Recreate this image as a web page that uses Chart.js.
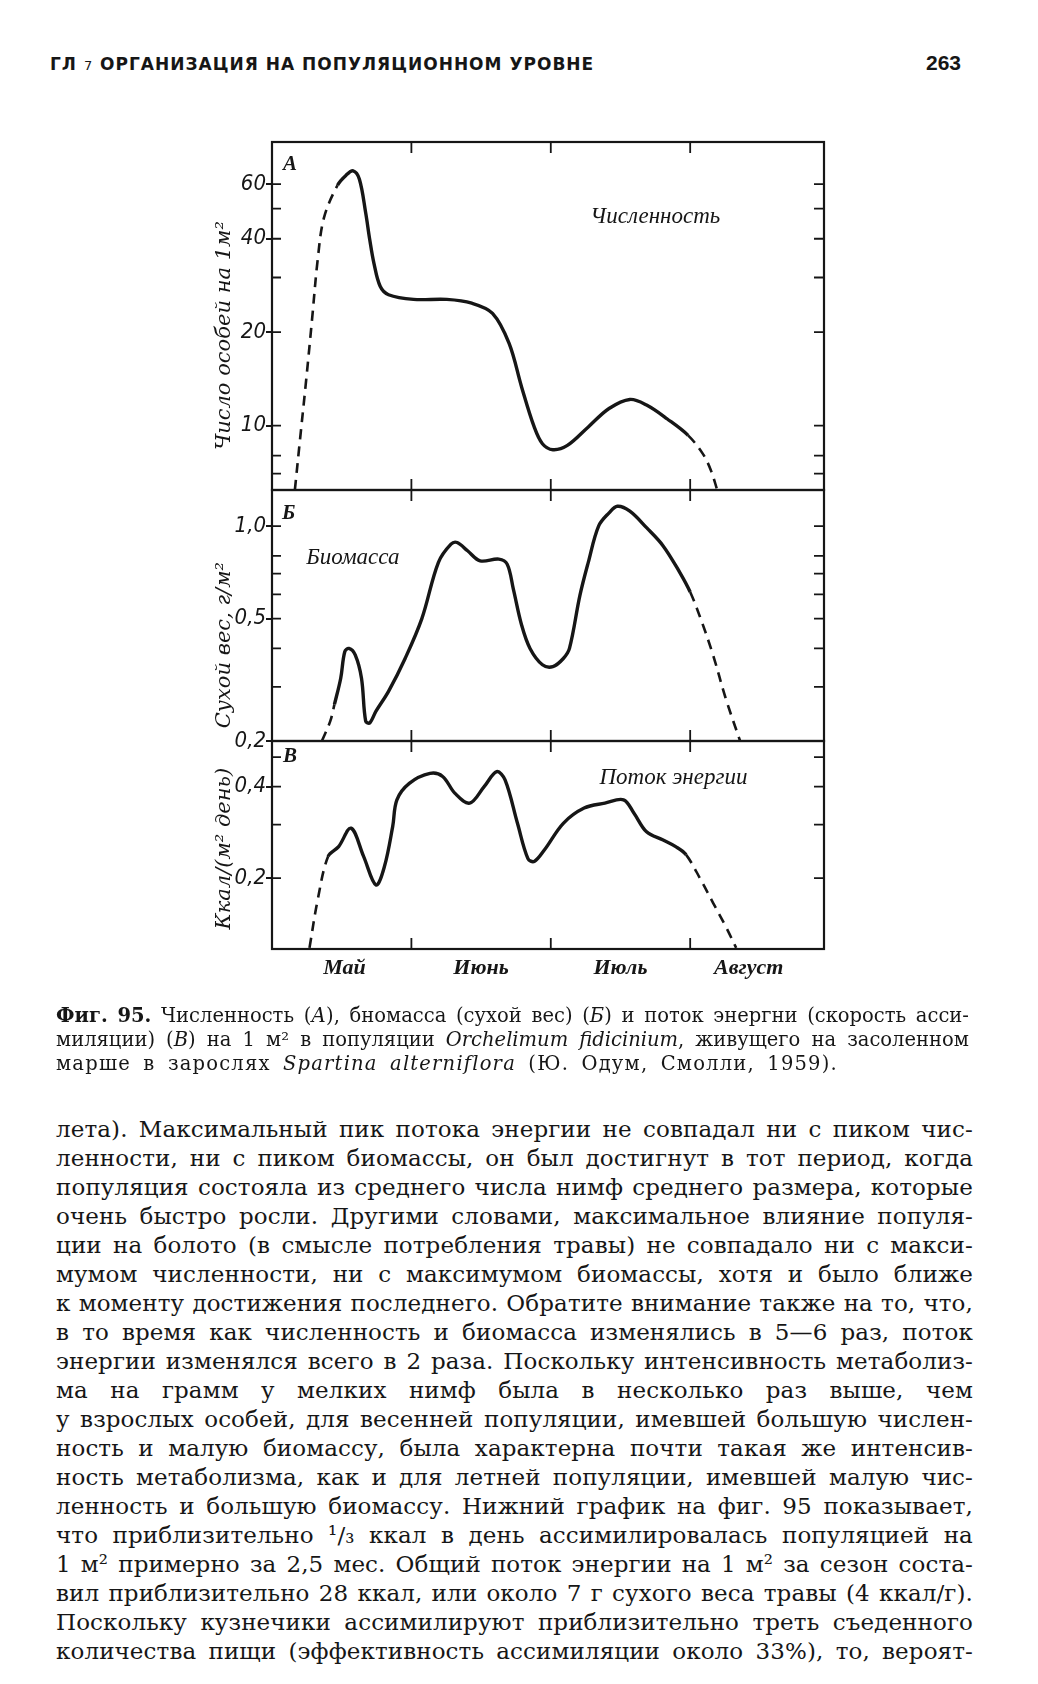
<!DOCTYPE html>
<html lang="ru">
<head>
<meta charset="utf-8">
<title>Фиг. 95</title>
<script src="https://cdn.jsdelivr.net/npm/chart.js@4.4.1/dist/chart.umd.min.js"></script>
<style>
    html, body { margin: 0; padding: 0; background: #fff; }
    body { width: 1038px; height: 1684px; position: relative; overflow: hidden; color: #161616; }
    canvas { position: absolute; left: 0; }
    .header { position: absolute; left: 50px; top: 54px; line-height: 20px; font: bold 17px 'DejaVu Sans', sans-serif; letter-spacing: 1px; white-space: nowrap; }
    .header .ch { font-weight: normal; font-size: 13px; }
    .pageno { position: absolute; left: 926px; top: 51px; line-height: 24px; font: bold 21px 'Liberation Sans', sans-serif; }
    .caption { position: absolute; left: 56px; top: 1004px; width: 913px; font: 19.5px 'DejaVu Serif', serif; line-height: 24px; }
    .text { position: absolute; left: 56px; top: 1115px; width: 917px; font: 23px 'DejaVu Serif', serif; line-height: 29px; letter-spacing: 0.1px; }
    .j { display: flex; justify-content: space-between; white-space: nowrap; }
    .n { white-space: nowrap; letter-spacing: 1.2px; word-spacing: 5px; }
</style>
</head>
<body>

<div class="header"><b>ГЛ</b> <span class="ch">7</span> ОРГАНИЗАЦИЯ НА ПОПУЛЯЦИОННОМ УРОВНЕ</div>
<div class="pageno">263</div>

<canvas id="numbers" width="1038" height="388" style="top:122px"></canvas>
<canvas id="biomass" width="1038" height="291" style="top:470px"></canvas>
<canvas id="energy" width="1038" height="288" style="top:721px"></canvas>

<div class="caption" id="caption"></div>
<div class="text" id="text"></div>

<script>
// month axis (x in months from the left edge of the frame)
var monthLabels = ['Май', 'Июнь', 'Июль', 'Август'];
var monthLabelAt = [0.52, 1.5, 2.5, 3.42];
var monthBounds = [1, 2, 3];

// A: numbers per m2
var numbersX = [0.164, 0.203, 0.245, 0.287, 0.328, 0.373, 0.47, 0.53, 0.582, 0.627, 0.672, 0.701, 0.731, 0.776, 0.836,
    1.015, 1.254, 1.433, 1.582, 1.701, 1.791, 1.881, 1.94, 2.015, 2.119, 2.269, 2.418, 2.567, 2.687, 2.836, 2.985,
    3.09, 3.149, 3.194];
var numbersY = [6.2, 9.2, 14.0, 21.9, 34.3, 46.8, 59.5, 64.0, 66.2, 62.2, 48.5, 39.8, 33.4, 28.1, 26.4,
    25.5, 25.5, 24.8, 23.0, 18.4, 13.3, 9.9, 8.74, 8.36, 8.63, 9.9, 11.35, 12.14, 11.64, 10.5, 9.3,
    8.12, 7.17, 6.2];
var numbersTicks = [10, 20, 40, 60];
var numbersTickLabels = ['10', '20', '40', '60'];
var numbersMinor = [7, 8, 10, 20, 30, 40, 50, 60];

// Б: biomass, dry weight g/m2
var biomassX = [0.358, 0.418, 0.448, 0.493, 0.522, 0.552, 0.597, 0.642, 0.672, 0.701, 0.746, 0.836, 0.955, 1.075,
    1.194, 1.284, 1.328, 1.403, 1.493, 1.627, 1.687, 1.731, 1.791, 1.851, 1.94, 2.015, 2.09, 2.134, 2.209, 2.269,
    2.343, 2.418, 2.478, 2.567, 2.687, 2.806, 2.925, 3.0, 3.075, 3.164, 3.254, 3.358];
var biomassY = [0.2, 0.232, 0.263, 0.32, 0.39, 0.4, 0.381, 0.32, 0.232, 0.229, 0.25, 0.29, 0.371, 0.5,
    0.762, 0.873, 0.884, 0.831, 0.771, 0.781, 0.752, 0.625, 0.476, 0.4, 0.354, 0.349, 0.371, 0.4, 0.595, 0.762,
    1.0, 1.104, 1.16, 1.118, 0.988, 0.862, 0.707, 0.61, 0.5, 0.381, 0.276, 0.2];
var biomassTicks = [0.2, 0.5, 1.0];
var biomassTickLabels = ['0,2', '0,5', '1,0'];
var biomassMinor = [0.3, 0.4, 0.5, 0.6, 0.7, 0.8, 1.0];

// В: energy flow, kcal/(m2 day)
var energyX = [0.269, 0.328, 0.403, 0.478, 0.567, 0.657, 0.746, 0.806, 0.866, 0.896, 0.985, 1.134, 1.224, 1.313,
    1.418, 1.522, 1.612, 1.672, 1.761, 1.836, 1.881, 1.955, 2.09, 2.239, 2.388, 2.522, 2.597, 2.687, 2.806, 2.896,
    2.97, 3.075, 3.164, 3.254, 3.33];
var energyY = [0.118, 0.17, 0.236, 0.254, 0.292, 0.236, 0.19, 0.218, 0.296, 0.362, 0.41, 0.442, 0.432, 0.38,
    0.353, 0.4, 0.448, 0.421, 0.303, 0.232, 0.227, 0.248, 0.303, 0.34, 0.353, 0.362, 0.327, 0.284, 0.267, 0.254,
    0.239, 0.198, 0.166, 0.139, 0.118];
var energyTicks = [0.2, 0.4];
var energyTickLabels = ['0,2', '0,4'];
var energyMinor = [0.2, 0.3, 0.4, 0.5];

var ink = '#161616';
var dejavuItalic = "'DejaVu Serif', 'Liberation Serif', serif";
var timesItalic = "'Liberation Serif', 'DejaVu Serif', serif";
var tickFont = {family: "'Liberation Sans Narrow', 'DejaVu Sans Condensed', 'Liberation Sans', sans-serif", style: 'italic', size: 22};

function zip(xs, ys) {
    return xs.map(function(x, i) { return {x: x, y: ys[i]}; });
}

// frame, inward ticks, axis title and notes inside the plot
var framePlugin = {
    id: 'frame',
    afterDraw: function(chart, args, opts) {
        var ctx = chart.ctx, a = chart.chartArea, xs = chart.scales.x, ys = chart.scales.y;
        ctx.save();
        ctx.strokeStyle = ink;
        ctx.lineWidth = 2.2;
        ctx.strokeRect(a.left, a.top, a.right - a.left, a.bottom - a.top);
        ctx.lineWidth = 1.8;
        ctx.beginPath();
        (opts.minor || []).forEach(function(v) {
            var py = ys.getPixelForValue(v);
            ctx.moveTo(a.left, py); ctx.lineTo(a.left + 9, py);
            ctx.moveTo(a.right - 10, py); ctx.lineTo(a.right, py);
        });
        monthBounds.forEach(function(v) {
            var px = xs.getPixelForValue(v);
            ctx.moveTo(px, a.top); ctx.lineTo(px, a.top + 11);
            ctx.moveTo(px, a.bottom); ctx.lineTo(px, a.bottom - 11);
        });
        ctx.stroke();
        ctx.fillStyle = ink;
        ctx.textAlign = 'center';
        ctx.textBaseline = 'middle';
        (opts.notes || []).forEach(function(n) {
            ctx.font = n.font;
            ctx.fillText(n.text, xs.getPixelForValue(n.x), ys.getPixelForValue(n.y));
        });
        if (opts.title) {
            // y title, rotated, centred on a value of the axis like in the print
            ctx.translate(225, ys.getPixelForValue(opts.title.at));
            ctx.rotate(-Math.PI / 2);
            ctx.font = 'italic 21px ' + dejavuItalic;
            ctx.fillText(opts.title.text, 0, 0);
        }
        ctx.restore();
    }
};

function makePanel(id, p) {
    var scales = {
        x: {type: 'linear', display: false, min: 0, max: 3.96},
        y: {
            type: 'logarithmic', min: p.min, max: p.max,
            afterBuildTicks: function(s) { s.ticks = p.ticks.map(function(v) { return {value: v}; }); },
            afterFit: function(s) { s.width = 64; },
            ticks: {
                callback: function(v, i) { return p.tickLabels[i]; },
                font: tickFont, color: ink, padding: 0, autoSkip: false
            },
            grid: {drawOnChartArea: false, tickLength: 6, color: ink, lineWidth: 2},
            border: {color: ink, width: 2}
        }
    };
    if (p.months) {
        scales.xm = {
            type: 'linear', position: 'bottom', min: 0, max: 3.96,
            afterBuildTicks: function(s) { s.ticks = monthLabelAt.map(function(v) { return {value: v}; }); },
            afterFit: function(s) { s.height = 40; },
            ticks: {
                callback: function(v, i) { return monthLabels[i]; },
                font: {family: timesItalic, style: 'italic', weight: 'bold', size: 22},
                color: ink, padding: 6, autoSkip: false, maxRotation: 0
            },
            grid: {display: false, drawTicks: false},
            border: {display: false}
        };
    }
    return new Chart(document.getElementById(id), {
        type: 'line',
        data: {
            datasets: [{
                data: zip(p.xs, p.ys),
                borderColor: ink,
                borderWidth: 3.4,
                pointRadius: 0,
                tension: 0.35,
                fill: false,
                segment: {
                    borderDash: function(c) { return (c.p0DataIndex < p.solid[0] || c.p0DataIndex >= p.solid[1]) ? [10, 7] : undefined; },
                    borderWidth: function(c) { return (c.p0DataIndex < p.solid[0] || c.p0DataIndex >= p.solid[1]) ? 2.6 : undefined; }
                }
            }]
        },
        options: {
            responsive: false,
            animation: false,
            devicePixelRatio: 1,
            layout: {padding: {left: 208, right: 214, top: 20, bottom: 20}},
            plugins: {
                legend: {display: false},
                tooltip: {enabled: false},
                frame: {minor: p.minor, notes: p.notes, title: p.title}
            },
            scales: scales
        },
        plugins: [framePlugin]
    });
}

var noteFont = 'italic 23px ' + timesItalic;
var letterFont = 'italic bold 21px ' + timesItalic;

makePanel('numbers', {
    xs: numbersX, ys: numbersY, solid: [6, 30], min: 6.2, max: 82,
    ticks: numbersTicks, tickLabels: numbersTickLabels, minor: numbersMinor,
    title: {text: 'Число особей на 1м²', at: 19.5},
    notes: [{text: 'А', x: 0.13, y: 69.5, font: letterFont}, {text: 'Численность', x: 2.75, y: 47, font: noteFont}]
});
makePanel('biomass', {
    xs: biomassX, ys: biomassY, solid: [2, 37], min: 0.2, max: 1.31,
    ticks: biomassTicks, tickLabels: biomassTickLabels, minor: biomassMinor,
    title: {text: 'Сухой вес, г/м²', at: 0.41},
    notes: [{text: 'Б', x: 0.12, y: 1.1, font: letterFont}, {text: 'Биомасса', x: 0.58, y: 0.79, font: noteFont}]
});
makePanel('energy', {
    xs: energyX, ys: energyY, solid: [2, 30], min: 0.117, max: 0.565, months: true,
    ticks: energyTicks, tickLabels: energyTickLabels, minor: energyMinor,
    title: {text: 'Ккал/(м² день)', at: 0.25},
    notes: [{text: 'В', x: 0.13, y: 0.502, font: letterFont}, {text: 'Поток энергии', x: 2.88, y: 0.426, font: noteFont}]
});

// page text, one justified line per printed line
var captionLines = [
    ['<b>Фиг.</b>', '<b>95.</b>', 'Численность', '(<i>А</i>),', 'бномасса', '(сухой', 'вес)', '(<i>Б</i>)', 'и', 'поток', 'энергни', '(скорость', 'асси-'],
    ['миляции)', '(<i>В</i>)', 'на', '1', 'м²', 'в', 'популяции', '<i>Orchelimum</i>', '<i>fidicinium</i>,', 'живущего', 'на', 'засоленном']
];
var captionLast = 'марше в зарослях <i>Spartina alterniflora</i> (Ю. Одум, Смолли, 1959).';

var textLines = [
    'лета). Максимальный пик потока энергии не совпадал ни с пиком чис-',
    'ленности, ни с пиком биомассы, он был достигнут в тот период, когда',
    'популяция состояла из среднего числа нимф среднего размера, которые',
    'очень быстро росли. Другими словами, максимальное влияние популя-',
    'ции на болото (в смысле потребления травы) не совпадало ни с макси-',
    'мумом численности, ни с максимумом биомассы, хотя и было ближе',
    'к моменту достижения последнего. Обратите внимание также на то, что,',
    'в то время как численность и биомасса изменялись в 5—6 раз, поток',
    'энергии изменялся всего в 2 раза. Поскольку интенсивность метаболиз-',
    'ма на грамм у мелких нимф была в несколько раз выше, чем',
    'у взрослых особей, для весенней популяции, имевшей большую числен-',
    'ность и малую биомассу, была характерна почти такая же интенсив-',
    'ность метаболизма, как и для летней популяции, имевшей малую чис-',
    'ленность и большую биомассу. Нижний график на фиг. 95 показывает,',
    'что приблизительно ¹/₃ ккал в день ассимилировалась популяцией на',
    '1 м² примерно за 2,5 мес. Общий поток энергии на 1 м² за сезон соста-',
    'вил приблизительно 28 ккал, или около 7 г сухого веса травы (4 ккал/г).',
    'Поскольку кузнечики ассимилируют приблизительно треть съеденного',
    'количества пищи (эффективность ассимиляции около 33%), то, вероят-'
];

function justified(words) {
    var div = document.createElement('div');
    div.className = 'j';
    words.forEach(function(w) {
        var s = document.createElement('span');
        s.innerHTML = w;
        div.appendChild(s);
    });
    return div;
}

var caption = document.getElementById('caption');
captionLines.forEach(function(words) {
    caption.appendChild(justified(words));
});
var last = document.createElement('div');
last.className = 'n';
last.innerHTML = captionLast;
caption.appendChild(last);

var text = document.getElementById('text');
textLines.forEach(function(line) {
    text.appendChild(justified(line.split(' ')));
});
</script>
</body>
</html>
